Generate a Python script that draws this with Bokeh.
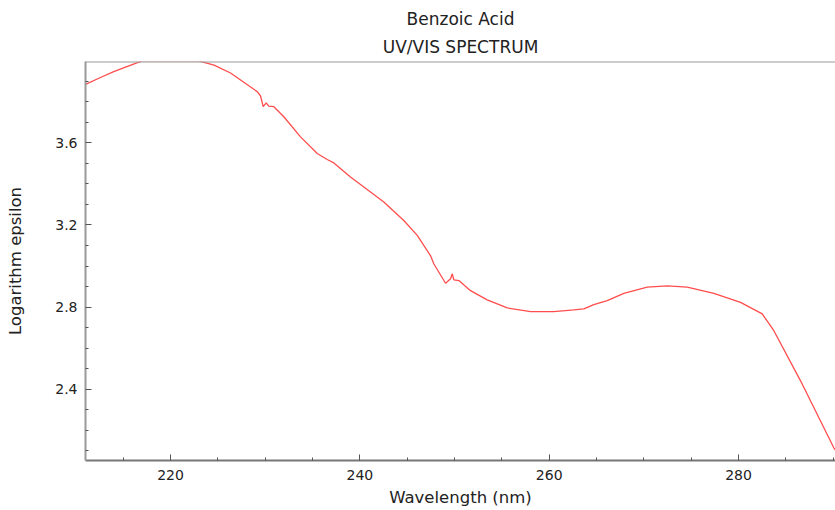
from bokeh.plotting import figure
from bokeh.models import Range1d, FixedTicker, Title, ColumnDataSource, Span
from bokeh.embed import file_html
from bokeh.resources import INLINE

# ---- data ----
wavelength = [211.02, 212.6, 214.0, 215.6, 217.0, 222.96, 224.6, 226.34, 229.19, 229.51,
              229.79, 230.11, 230.38, 230.91, 231.97, 233.73, 235.50, 236.55, 237.25,
              239.01, 242.53, 244.64, 246.06, 247.46, 247.81, 249.05, 249.58, 249.76,
              249.93, 250.46, 251.69, 253.45, 255.57, 258.03, 260.49, 262.60, 263.66,
              264.71, 266.13, 267.88, 270.35, 272.46, 274.58, 277.39, 280.21, 282.50,
              283.73, 286.55, 290.06, 290.30]
log_eps = [3.885, 3.918, 3.947, 3.975, 3.999, 3.999, 3.978, 3.940, 3.848, 3.828,
           3.776, 3.795, 3.779, 3.776, 3.727, 3.629, 3.548, 3.519, 3.502,
           3.434, 3.312, 3.222, 3.149, 3.051, 3.011, 2.916, 2.938, 2.962,
           2.933, 2.929, 2.880, 2.835, 2.796, 2.778, 2.778, 2.786, 2.791,
           2.812, 2.832, 2.867, 2.897, 2.903, 2.897, 2.867, 2.823, 2.767,
           2.685, 2.441, 2.115, 2.100]

x_major = [220, 240, 260, 280]
x_minor = [215, 225, 230, 235, 245, 250, 255, 265, 270, 275, 285, 290]
y_major = [2.4, 2.8, 3.2, 3.6]
y_minor = [2.1, 2.2, 2.3, 2.5, 2.6, 2.7, 2.9, 3.0, 3.1, 3.3, 3.4, 3.5, 3.7, 3.8, 3.9]

title_main = "Benzoic Acid"
title_sub = "UV/VIS SPECTRUM"
x_label = "Wavelength (nm)"
y_label = "Logarithm epsilon"

FONT = "DejaVu Sans"

X_START, X_END = 211.02, 290.24
Y_START, Y_END = 2.053, 3.996

p = figure(width=835, height=510, output_backend="svg", toolbar_location=None,
           x_range=Range1d(X_START, X_END), y_range=Range1d(Y_START, Y_END),
           min_border_left=85, min_border_right=0, min_border_top=61, min_border_bottom=50)

p.title.text = ""
p.add_layout(Title(text=title_sub, align="center", text_font=FONT, text_font_size="17px",
                   text_font_style="normal", text_color="#222222", standoff=9), "above")
p.add_layout(Title(text=title_main, align="center", text_font=FONT, text_font_size="17px",
                   text_font_style="normal", text_color="#222222", standoff=3), "above")

src = ColumnDataSource(dict(x=wavelength, y=log_eps))
p.line("x", "y", source=src, line_color="#ff4d4d", line_width=1.3)

# top border line only (no right border, as in the reference)
p.add_layout(Span(location=Y_END, dimension="width", line_color="#999999", line_width=2))

p.xgrid.visible = False
p.ygrid.visible = False
p.outline_line_color = None
p.background_fill_color = "white"
p.border_fill_color = "white"

p.xaxis.ticker = FixedTicker(ticks=x_major, minor_ticks=x_minor)
p.yaxis.ticker = FixedTicker(ticks=y_major, minor_ticks=y_minor)

for ax in (p.xaxis[0], p.yaxis[0]):
    ax.major_tick_in = 6
    ax.major_tick_out = 0
    ax.minor_tick_in = 3
    ax.minor_tick_out = 0
    ax.major_tick_line_color = "#555555"
    ax.minor_tick_line_color = "#555555"
    ax.major_label_text_font = FONT
    ax.major_label_text_font_size = "14px"
    ax.major_label_text_color = "#222222"
    ax.axis_label_text_font = FONT
    ax.axis_label_text_font_size = "16.5px"
    ax.axis_label_text_font_style = "normal"
    ax.axis_label_text_color = "#222222"

xa = p.xaxis[0]
ya = p.yaxis[0]
xa.axis_label = x_label
ya.axis_label = y_label
xa.axis_line_color = "#777777"
xa.axis_line_width = 2
ya.axis_line_color = "#999999"
ya.axis_line_width = 2
xa.major_label_standoff = 9
xa.axis_label_standoff = 5
ya.major_label_standoff = 8
ya.axis_label_standoff = 27

open("out.html", "w").write(file_html(p, INLINE))
